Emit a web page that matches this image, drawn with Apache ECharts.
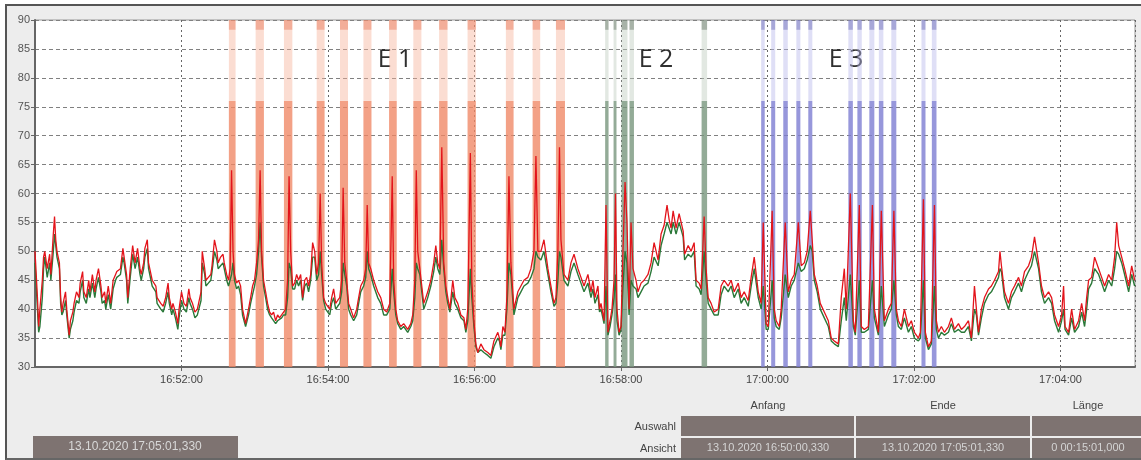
<!DOCTYPE html>
<html><head><meta charset="utf-8">
<script src="https://cdn.jsdelivr.net/npm/echarts/dist/echarts.min.js"></script>
<style>
html,body{margin:0;padding:0;background:#fff;width:1141px;height:460px;overflow:hidden}
#frame{position:absolute;left:5px;top:4px;width:1140px;height:456px;background:#EDEDED;border-left:2px solid #555;border-top:2px solid #555;border-bottom:2px solid #666;box-sizing:border-box}
#chart{position:absolute;left:0;top:0;width:1141px;height:460px}
</style></head><body>
<div id="frame"></div><div id="chart"></div>
<script>
// seconds after 16:50:00
const times = [
0,2,3,4,6,7,8,10,12,13,
15,16,17,18,20,21,22,23,25,26,
28,29,31,32,34,36,37,39,40,42,
44,45,47,49,50,52,54,55,57,58,
60,62,64,66,67,70,72,73,75,76,
78,80,82,84,86,87,89,90,92,93,
95,96,99,100,103,105,107,109,110,112,
113,115,117,118,120,122,124,126,127,129,
131,133,136,137,139,140,142,144,145,147,
149,150,152,154,155,157,158.5,159.8,161.0,162.2,
163.4,165.1,166.7,168.4,170.0,172.5,174.9,176.6,178.2,179.8,
181.5,183.1,184.4,185.6,187.2,188.9,190.5,192.2,193.8,195.4,
197.1,198.7,200.3,202.0,203.6,205.3,206.9,208.1,209.4,211.0,
212.7,214.3,215.9,217.6,219.2,220.9,222.5,224.1,225.8,227.4,
229.1,230.7,232.3,233.6,234.8,236.4,238.1,239.7,241.4,243.0,
244.6,246.3,247.9,249.6,251.2,252.4,253.7,255.3,256.9,258.6,
261.0,263.5,265.1,266.8,269.2,270.9,272.1,273.3,275.0,277.4,
280.7,283.2,285.6,288.1,290.6,292.6,293.8,295.5,297.1,299.6,
302.0,305.3,307.8,309.4,311.1,312.3,313.5,315.2,316.8,318.4,
320.1,321.7,324.2,326.6,328.3,329.9,331.6,333.2,334.8,336.5,
338.1,339.8,342.2,343.9,346.3,348.8,351.3,352.9,354.5,356.6,
357.8,359.5,361.1,362.7,365.2,367.7,370.9,373.4,375.9,379.1,
380.4,381.6,383.2,384.9,386.5,388.2,389.8,392.3,395.5,398.0,
400.5,403.7,406.2,408.7,410.3,411.9,414.4,416.9,420.1,422.6,
425.1,426.7,428.3,429.6,430.8,433.3,436.5,439.0,441.5,444.7,
447.2,449.7,452.9,455.4,457.0,458.7,461.1,462.4,463.6,466.1,
467.7,469.3,471.0,472.6,474.3,475.5,476.7,478.4,480.0,481.6,
483.3,484.9,486.6,488.2,489.8,492.3,493.9,496.4,498.9,502.1,
504.6,507.1,510.4,512.8,515.3,517.7,519.4,521.0,522.7,525.1,
527.6,530.9,532.1,535.0,537.4,539.9,541.5,544.0,545.6,548.1,
549.7,551.4,553.8,556.3,559.6,562.0,564.5,567.8,570.2,572.7,
576.0,578.4,580.9,584.2,586.6,589.1,592.4,594.8,596.5,598.9,
600.6,603.8,605.5,607.1,609.6,611.2,614.5,617.0,619.4,621.9,
625.2,627.6,630.1,632.5,635.0,636.6,638.3,640.7,643.2,646.5,
649.8,652.2,654.7,658.0,660.4,662.9,664.5,667.8,670.3,671.9,
675.2,676.8,679.3,682.6,685.9,687.5,690.8,693.2,695.7,699.0,
701.4,703.5,705.5,707.2,709.6,712.1,715.4,717.8,720.3,723.6,
725.2,727.7,729.3,731.8,734.2,736.7,738.3,740.0,742.4,744.9,
748.2,750.6,753.1,756.4,758.8,761.3,764.6,767.0,769.5,771.1,
772.8,775.2,777.7,781.0,783.4,785.9,789.2,790.4,791.6,794.1,
797.4,799.8,802.3,805.6,808.0,810.5,813.8,816.2,818.7,822.0,
824.4,826.9,830.2,832.7,835.1,838.4,840.9,842.5,843.7,846.6,
849.1,851.5,854.8,857.3,859.7,861.4,863.0,865.5,867.9,871.2,
873.7,876.1,879.4,881.9,884.3,886.0,887.6,890.1,892.5,895.8,
898.3,900.7
];
const redValues = [
50,42,37,40,45,49,50,47,49.5,46,
53,56,52,50,48,42,39.5,41,43,40,
35.5,38,39.5,41,43,42,44.5,46.5,43,42,
45,43,46,43,45,47,44,42,43,41,
44,41,45,46,46.5,47,50.5,49,46,42,
47,51,48,50.5,47,46,48,50.5,52,48,
46,45,44,42,41,40.5,42,44.5,42,40,
41,39.5,37.5,40,43,41,40.5,43.5,42,41,
39.5,40,43,50,47,45,45.5,46,47.5,52,
50,48,49,49.5,48,46,45,47,64,50,
46,44.5,45,44,40,37.5,40,42,44,45,
48,52,64,50,45,43,41,39.5,39,39.5,
38,39,38.5,39,39.5,40,45,63,50,44,
44.5,46,45,46,42,45,45.5,44,46,51.5,
50,46,48,60,48,42,41,40.5,40,42,
43.5,41,41.5,42,45,61,48,45,41,40,
38.5,40,42,44,45,47,58,48,47,45,
43,42,40,39.5,41,63,45,40,38,37,
37.5,36.5,37.5,39,45,64,50,47,44,41,
42,43,45,48,51,48,47,68,48,44,
42,40,45,42,41,39,38.5,36.5,40,67,
45,38,34,32.5,34,33,32.5,32,34.5,36,
35,33.5,37,36,42,63,48,40,43,44,
45,45.5,47,50,66.5,50,50,52,47,44,
41,42,50,68,52,46,45,48,49.5,47,
45.5,44,46,43,45,42,44,40,41,38,
58,36,38,40,45,60,40,36,37,50,
62,55,40,55,47,45,43,44.5,45,46,
48,51.5,48.5,53,54.5,58,55.5,54,57,54,
56.5,53.5,49.5,51,50,51.5,45,44.5,43.5,56,
47,42,41,39.5,40,44,45,44,45,43,
44.5,42,43,41.5,45.5,49,43,41,55,37.5,
37,57,40,38,37,40,55,43,45,46,
55,47.5,48,50,57,52,46,44,41,39.5,
38,35,34.5,34,42,47,40,60,38,36,
58,37,36.5,37,58,40,36,57,38,40,
41,57,40,38,37,40,37,38,36,35,
36,59,36,33.5,34.5,58,38,36,37,36,
37,38.5,36.5,37.5,36.5,37,38,35,44,40,
36,40,42,43.5,44,45,46.5,50,47.5,43,
41,43,44,45.5,44,46.5,47.5,49,52.5,48,
44,42,43,42,39,37,39,44,37,36,
40,36.5,38,41,38,42,45,45.5,49,47,
45.5,44,46,45,49,55,51,49,47,44,
47.5,45
];
const greenValues = [
48,40,36,37,42,47,49,45.5,48,45,
50,53,51,49,47,41,39,39.5,41.5,39,
35,36.5,38,39.5,41.5,41,43,45,42,41,
43.5,42,44.5,42,43.5,45.5,43,41,41.5,40,
42.5,40,43.5,45,45.5,46,49,48,45,41,
45.5,49.5,47,49,46,45,47,49,50.5,47,
45,44,43,41,40,39.5,41,43,41,39,
40,38.5,36.5,38.5,41.5,40,39.5,42,41,40,
38.5,39,41.5,48,46,44,44.5,45,46.5,50,
48.5,47,47.5,48,47,45,44,44,46,48,
45,43.5,44,42.5,39,37,39,41,42.5,44,
46,50,55,49,44,42,40,39,38.5,38.5,
37.5,38,38,38.5,39,39,42,48,47,43.5,
43.5,45,44,45,41.5,44,44.5,43,45,49,
49,45,46,50,46,41.5,40,40,39,41,
42,40,40.5,41,43,48,46,44,40,39,
38,39,41,43,44,45.5,50,47,46,44,
42,41,39,39,40,47,43,39,37.5,36.5,
37,36,37,38,42,48,47,46,43,40,
41,42,44,46.5,49,47,46,52,47,43,
41,39.5,43,41,40,38.5,38,36,38,47,
42,37,33.5,32.5,33,32.5,32,31.5,33.5,35,
34.5,33,35.5,35.5,40,48,46,39,42,43,
44,44.5,45.5,47,50,49,48.5,50,46,43,
40.5,41,45,50,49,45,44,46.5,48,46,
44.5,43,44.5,42,43.5,41,42.5,39.5,40,37.5,
44,35.5,37,39,42,46,38,35.5,36.5,44,
50,48,39,45,44,43.5,42,43,44,44.5,
46.5,49,47.5,51,53,55,54,53,55,53,
55,52.5,48.5,49.5,49,50,44,43.5,42.5,50,
45,41,40,39,39,42.5,44,43,44,42,
43.5,41,42,40.5,44,47,42,40,44,36.5,
36.5,45,38.5,37,36.5,38.5,46,42,44,45,
48,46.5,47,48.5,51,50,45,43,40,38.5,
37,34.5,34,33.5,38,42,38,46,37,35.5,
45,36,36,36.5,45,38.5,35.5,44,37,39,
40,45,39,37,36.5,38.5,36,37,35,34.5,
35,45,35,33,34,44,36.5,35,36,35.5,
36,37.5,36,36.5,36,36,37,34.5,40,39,
35.5,38.5,41,42.5,43,44,45.5,47,46.5,42,
40,42,43,44.5,43,45,46.5,47.5,50,47,
43,41,42,41,38,36,38,40,36.5,35.5,
38.5,36,37,39.5,37,40,43.5,44.5,47,46,
44.5,43,45,44,47,50,49.5,48,46,43,
46,44
];
// marked events [start s, end s]
const orangeBands = [[158.8,164.3],[180.7,187.5],[203.9,210.8],[230.7,237.2],[249.8,256.4],[269.0,275.6],[290.0,296.3],[309.9,316.5],[331.0,337.9],[354.3,361.1],[385.7,392.0],[407.6,413.8],[426.7,434.1]];
const greenBands = [[467.0,469.8],[473.9,476.3],[480.4,485.3],[486.9,490.6],[546.0,550.5]];
const blueBands = [[594.8,597.7],[603.0,606.3],[612.9,616.6],[623.6,626.9],[633.4,636.7],[666.2,669.9],[673.6,677.2],[683.4,687.5],[691.2,694.9],[701.4,705.5],[726.1,729.4],[734.6,738.4]];
const eventLabels = ['E 1','E 2','E 3'];
const viewStart = '13.10.2020 16:50:00,330';
const viewEnd = '13.10.2020 17:05:01,330';
const viewLength = '0 00:15:01,000';

const baseSec = 16*3600 + 50*60;
function hms(v){
  const s = baseSec + Math.round(v);
  const h = Math.floor(s/3600), m = Math.floor((s%3600)/60), ss = s%60;
  const p = n => (n<10?'0':'')+n;
  return p(h)+':'+p(m)+':'+p(ss);
}

const palette = [
  {mid:'rgba(240,135,100,0.78)', light:'rgba(246,180,155,0.45)', top:'rgba(238,140,110,0.7)'},
  {mid:'rgba(120,150,125,0.80)', light:'rgba(190,205,190,0.45)', top:'rgba(130,145,130,0.7)'},
  {mid:'rgba(125,125,210,0.80)', light:'rgba(185,185,235,0.45)', top:'rgba(130,130,200,0.7)'}
];
const bandData = [];
orangeBands.forEach(b => bandData.push([b[0], b[1], 0]));
greenBands.forEach(b => bandData.push([b[0], b[1], 1]));
blueBands.forEach(b => bandData.push([b[0], b[1], 2]));

const chart = echarts.init(document.getElementById('chart'), null, {renderer:'canvas'});
const F = 'Liberation Sans, Arial, sans-serif';
const cellFill = '#7E7371';
const option = {
  animation:false,
  backgroundColor:'transparent',
  grid:{left:35, top:20, width:1100, height:347, show:true, backgroundColor:'#fff', borderColor:'#999', borderWidth:1},
  xAxis:{type:'value', min:0, max:901, interval:120,
    axisLine:{show:true, onZero:false, lineStyle:{color:'#666', width:2}},
    axisTick:{show:true, length:4, lineStyle:{color:'#666'}},
    axisLabel:{formatter:hms, showMinLabel:false, showMaxLabel:false, color:'#444', fontSize:11, fontFamily:F, margin:7},
    splitLine:{show:true, lineStyle:{color:'#666', type:[2,3], width:1}}},
  yAxis:{type:'value', min:30, max:90, interval:5,
    axisLine:{show:true, lineStyle:{color:'#666', width:2}},
    axisTick:{show:true, length:4, lineStyle:{color:'#666'}},
    axisLabel:{color:'#555', fontSize:11, fontFamily:F, margin:5},
    splitLine:{show:true, lineStyle:{color:'#808080', type:[4,3], width:1}}},
  series:[
    {type:'custom', silent:true, z:1, data:bandData, encode:{x:[0,1]},
     renderItem:(params, api) => {
       const s = api.value(0), e = api.value(1), k = api.value(2);
       const pb = api.coord([s, 30]), pt = api.coord([e, 90]);
       const yMid = api.coord([s, 76])[1], yTop = api.coord([s, 88.3])[1];
       const c = palette[k];
       const x = pb[0], w = pt[0]-pb[0];
       return {type:'group', children:[
         {type:'rect', shape:{x:x, y:yMid, width:w, height:pb[1]-yMid}, style:{fill:c.mid}},
         {type:'rect', shape:{x:x, y:yTop, width:w, height:yMid-yTop}, style:{fill:c.light}},
         {type:'rect', shape:{x:x, y:pt[1], width:w, height:yTop-pt[1]}, style:{fill:c.top}}
       ]};
     }},
    {type:'line', z:3, showSymbol:false, data:times.map((t,i)=>[t, greenValues[i]]), lineStyle:{color:'#2A7838', width:1.4}},
    {type:'line', z:4, showSymbol:false, data:times.map((t,i)=>[t, redValues[i]]), lineStyle:{color:'#E3141B', width:1.3}}
  ],
  graphic:[
    {type:'text', x:395, y:60, style:{text:eventLabels[0], fontSize:25, fontFamily:'Open Sans, sans-serif', fill:'#2F2F2F', textAlign:'center', textVerticalAlign:'middle'}},
    {type:'text', x:656, y:60, style:{text:eventLabels[1], fontSize:25, fontFamily:'Open Sans, sans-serif', fill:'#2F2F2F', textAlign:'center', textVerticalAlign:'middle'}},
    {type:'text', x:846, y:60, style:{text:eventLabels[2], fontSize:25, fontFamily:'Open Sans, sans-serif', fill:'#2F2F2F', textAlign:'center', textVerticalAlign:'middle'}},
    {type:'rect', shape:{x:33, y:436, width:205, height:22}, style:{fill:cellFill}},
    {type:'text', x:135, y:447, style:{text:viewEnd, fontSize:12, fontFamily:F, fill:'#D8D8D8', textAlign:'center', textVerticalAlign:'middle'}},
    {type:'text', x:768, y:406, style:{text:'Anfang', fontSize:11, fontFamily:F, fill:'#444', textAlign:'center', textVerticalAlign:'middle'}},
    {type:'text', x:943, y:406, style:{text:'Ende', fontSize:11, fontFamily:F, fill:'#444', textAlign:'center', textVerticalAlign:'middle'}},
    {type:'text', x:1088, y:406, style:{text:'Länge', fontSize:11, fontFamily:F, fill:'#444', textAlign:'center', textVerticalAlign:'middle'}},
    {type:'text', x:676, y:427, style:{text:'Auswahl', fontSize:11, fontFamily:F, fill:'#444', textAlign:'right', textVerticalAlign:'middle'}},
    {type:'text', x:676, y:449, style:{text:'Ansicht', fontSize:11, fontFamily:F, fill:'#444', textAlign:'right', textVerticalAlign:'middle'}},
    {type:'rect', shape:{x:681, y:416, width:173, height:20}, style:{fill:cellFill}},
    {type:'rect', shape:{x:856, y:416, width:174, height:20}, style:{fill:cellFill}},
    {type:'rect', shape:{x:1032, y:416, width:109, height:20}, style:{fill:cellFill}},
    {type:'rect', shape:{x:681, y:438, width:173, height:20}, style:{fill:cellFill}},
    {type:'rect', shape:{x:856, y:438, width:174, height:20}, style:{fill:cellFill}},
    {type:'rect', shape:{x:1032, y:438, width:109, height:20}, style:{fill:cellFill}},
    {type:'text', x:768, y:448, style:{text:viewStart, fontSize:11, fontFamily:F, fill:'#D4D4D4', textAlign:'center', textVerticalAlign:'middle'}},
    {type:'text', x:943, y:448, style:{text:viewEnd, fontSize:11, fontFamily:F, fill:'#D4D4D4', textAlign:'center', textVerticalAlign:'middle'}},
    {type:'text', x:1088, y:448, style:{text:viewLength, fontSize:11, fontFamily:F, fill:'#D4D4D4', textAlign:'center', textVerticalAlign:'middle'}}
  ]
};
chart.setOption(option);
</script></body></html>
